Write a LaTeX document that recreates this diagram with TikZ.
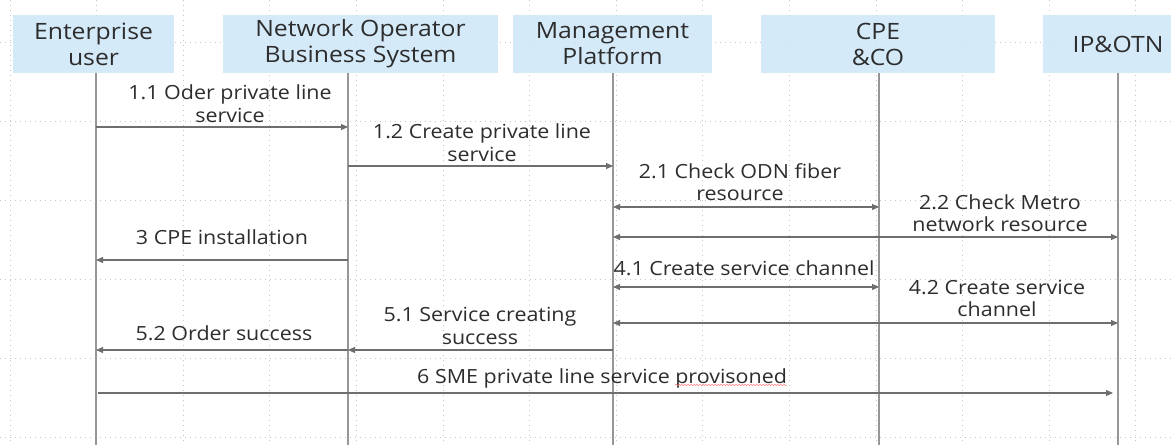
\documentclass[tikz,border=0pt]{standalone}
\usepackage{fontspec}
\setmainfont{Open Sans}[FakeStretch=1.1]
\usetikzlibrary{arrows.meta,positioning,decorations.pathmorphing}
\pgfdeclarelayer{background}
\pgfdeclarelayer{foreground}
\pgfsetlayers{background,main,foreground}
\definecolor{hdrblue}{RGB}{206,231,248}
\definecolor{txtgray}{RGB}{45,45,45}
\definecolor{linegray}{RGB}{110,110,110}
\definecolor{lifegray}{RGB}{150,150,150}

\tikzset{
  actor/.style={fill=hdrblue, fill opacity=0.85, text opacity=1, text=txtgray,
    align=center, minimum height=58pt, inner sep=0pt,
    font=\fontsize{22.5}{26}\selectfont},
  lbl/.style={text=txtgray, align=center, inner sep=0pt,
    font=\fontsize{19.5}{22.5}\selectfont},
  life/.style={draw=lifegray, line width=1.1pt},
  msg/.style={draw=linegray, line width=1.1pt, -{Triangle[length=7pt,width=6pt]}},
  bimsg/.style={msg, {Triangle[length=7pt,width=6pt]}-{Triangle[length=7pt,width=6pt]}},
  gridline/.style={draw=gray!45, line width=0.8pt, dash pattern=on 1pt off 4pt},
  spell/.style={draw=red!55, line width=0.5pt, decorate,
    decoration={snake, amplitude=0.6pt, segment length=3pt}},
}

\begin{document}
\begin{tikzpicture}[x=1pt,y=-1pt]
  \useasboundingbox (0,0) rectangle (1171,445);
  \clip (0,0) rectangle (1171,445);
  \begin{pgfonlayer}{background}
    \fill[white] (0,0) rectangle (1171,445);
    \foreach \gx in {0,...,13}
      \draw[gridline] ({10+86.6*\gx},0) -- ++(0,445);
    \foreach \gy in {0,...,5}
      \draw[gridline] (0,{42+79*\gy}) -- ++(1171,0);
  \end{pgfonlayer}

  % header boxes
  \node[actor, minimum width=161pt] (eu) at (93.5,44) {Enterprise\\user};
  \node[actor, minimum width=275pt] (nobs) at (360.5,44) {Network Operator\\Business System};
  \node[actor, minimum width=199pt] (mp) at (612.5,44) {Management\\Platform};
  \node[actor, minimum width=234pt] (cpe) at (878,44) {CPE\\\&CO};
  \node[actor, minimum width=150pt] (ipotn) at (1118,44) {IP\&OTN};

  % lifelines
  \coordinate (euL) at (96,73);
  \coordinate (nobsL) at (348,73);
  \coordinate (mpL) at (613,73);
  \coordinate (cpeL) at (879,73);
  \coordinate (ipL) at (1118,73);
  \coordinate (bot) at (0,445);
  \foreach \l in {euL,nobsL,mpL,cpeL,ipL}
    \draw[life] (\l) -- (\l |- bot);

  % message rows
  \coordinate (r11) at (0,127);
  \coordinate (r12) at (0,166);
  \coordinate (r21) at (0,207);
  \coordinate (r22) at (0,237);
  \coordinate (r3) at (0,260);
  \coordinate (r41) at (0,287);
  \coordinate (r42) at (0,323);
  \coordinate (r51) at (0,350);
  \coordinate (r6) at (0,393);

  \draw[msg] (euL |- r11) -- (nobsL |- r11);
  \draw[msg] (nobsL |- r12) -- (mpL |- r12);
  \draw[bimsg] (mpL |- r21) -- (cpeL |- r21);
  \draw[bimsg] (mpL |- r22) -- (ipL |- r22);
  \draw[msg] (nobsL |- r3) -- (euL |- r3);
  \draw[bimsg] (mpL |- r41) -- (cpeL |- r41);
  \draw[bimsg] (mpL |- r42) -- (ipL |- r42);
  \draw[msg] (mpL |- r51) -- (nobsL |- r51);
  \draw[msg] (nobsL |- r51) -- (euL |- r51);
  \draw[msg, shorten <=2pt, shorten >=5pt] (euL |- r6) -- (ipL |- r6);

  % labels
  \node[lbl] (t11) at (230,103.5) {1.1 Oder private line\\service};
  \node[lbl] (t12) at (482,142.5) {1.2 Create private line\\service};
  \node[lbl] (t21) at (740,182) {2.1 Check ODN fiber\\resource};
  \node[lbl] (t22) at (1000,213) {2.2 Check Metro\\network resource};
  \node[lbl] (t3) at (222,237) {3 CPE installation};
  \node[lbl] (t41) at (744,268) {4.1 Create service channel};
  \node[lbl] (t42) at (997,298.5) {4.2 Create service\\channel};
  \node[lbl] (t51) at (480,326) {5.1 Service creating\\success};
  \node[lbl] (t52) at (224,333) {5.2 Order success};
  \node[lbl, anchor=base west] (t6a) at (417,383) {6 SME private line service};
  \node[lbl, anchor=base west] (t6b) at ([xshift=5pt]t6a.base east) {provisoned};
  \draw[spell] ([yshift=-2pt]t6b.base west) -- ([yshift=-2pt]t6b.base east);
\end{tikzpicture}
\end{document}
